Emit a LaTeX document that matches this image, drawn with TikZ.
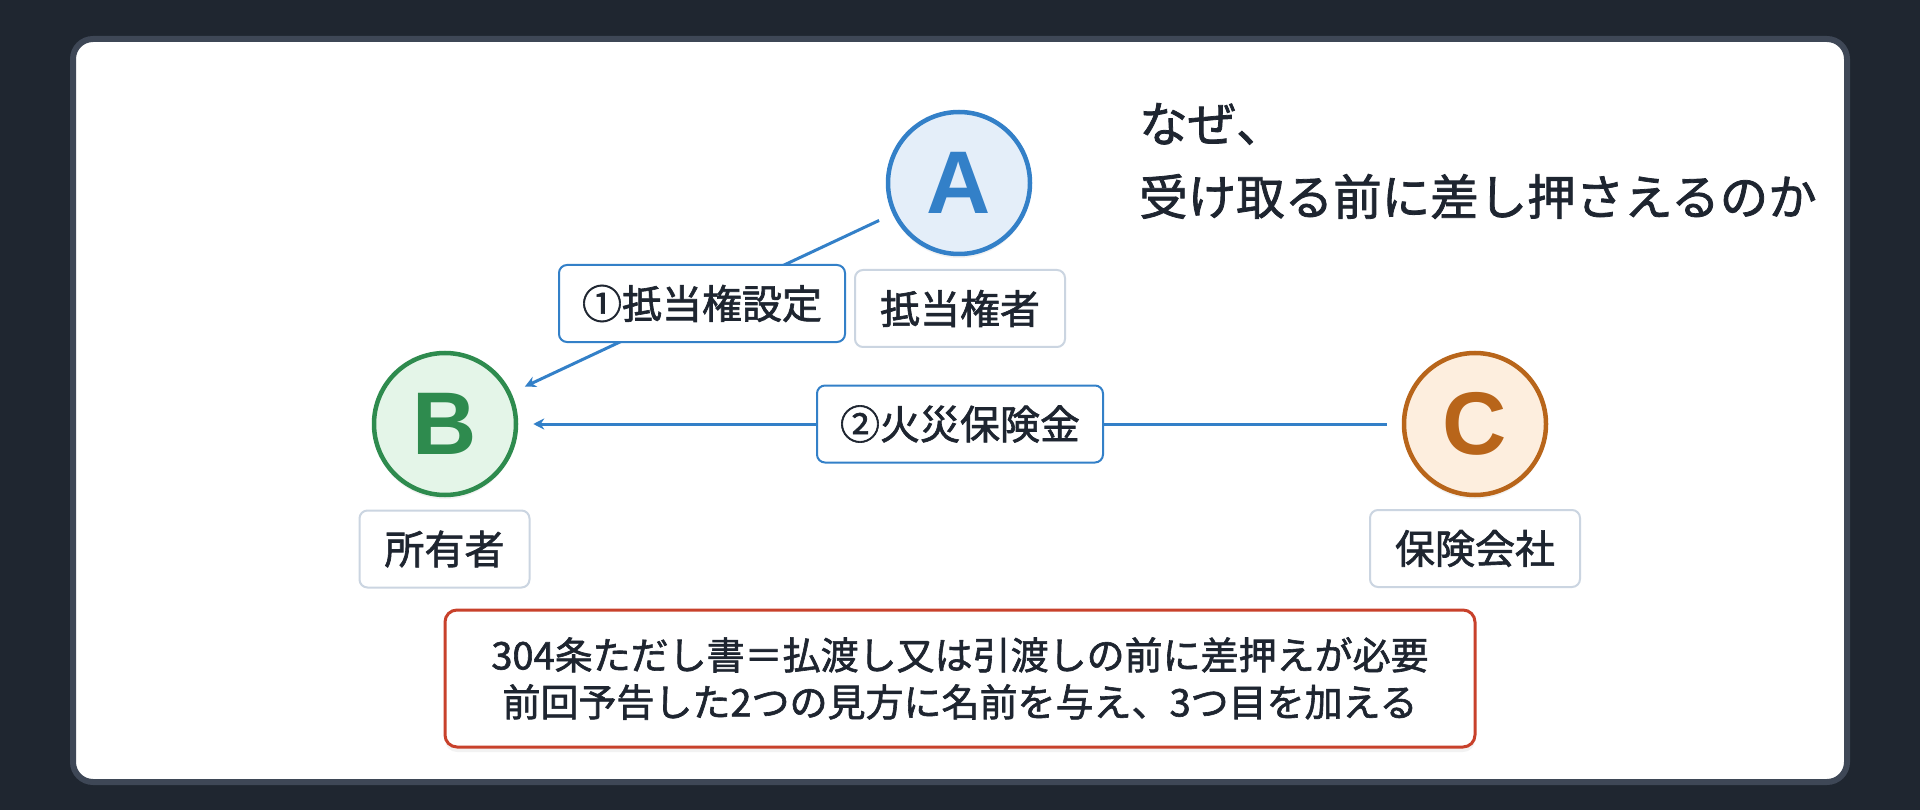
\documentclass[tikz,border=0pt]{standalone}
\usepackage{fontspec}
\setmainfont{Noto Sans CJK JP}
\newfontfamily\jpfont{Noto Sans CJK JP}[FakeBold=1.6]
\newfontfamily\latinfont{Liberation Sans}
\usetikzlibrary{arrows.meta,shadows}
\definecolor{bgdark}{HTML}{1F2630}
\definecolor{cardborder}{HTML}{3E4756}
\definecolor{inkdark}{HTML}{1E2530}
\definecolor{ablue}{HTML}{3380C8}
\definecolor{afill}{HTML}{E4EEF9}
\definecolor{bgreen}{HTML}{2E8B4E}
\definecolor{bfill}{HTML}{E4F5E8}
\definecolor{corange}{HTML}{B8651A}
\definecolor{cfill}{HTML}{FDEEDE}
\definecolor{graybd}{HTML}{CBD5E1}
\definecolor{notered}{HTML}{C8412B}
\begin{document}
\begin{tikzpicture}[x=1pt,y=-1pt,
  circ/.style={circle, minimum size=142pt, inner sep=0pt, line width=4.5pt,
    font=\latinfont\bfseries\fontsize{89}{89}\selectfont,
    drop shadow={opacity=0.10, shadow xshift=0pt, shadow yshift=-4pt}},
  lblbase/.style={rectangle, rounded corners=8pt, fill=white, line width=2pt,
    minimum height=77pt, inner xsep=25pt, inner ysep=0pt, text=inkdark,
    font=\jpfont\fontsize{40}{40}\selectfont},
  graylbl/.style={lblbase, draw=graybd},
  bluelbl/.style={lblbase, draw=ablue, inner xsep=23pt},
  arr/.style={draw=ablue, line width=3pt, -{Stealth[length=11pt,width=11pt]},
    shorten <=15pt, shorten >=15pt},
  titletxt/.style={anchor=base west, inner sep=0pt, text=inkdark,
    font=\jpfont\fontsize{48.5}{48.5}\selectfont},
  notebox/.style={rectangle, rounded corners=12pt, draw=notered, line width=3pt,
    fill=white, minimum width=1030pt, minimum height=137pt, align=center,
    text=inkdark, font=\jpfont\fontsize{38}{47}\selectfont,
    drop shadow={opacity=0.10, shadow xshift=0pt, shadow yshift=-5pt}}
]
\useasboundingbox (0,0) rectangle (1920,810);
\fill[bgdark] (0,0) rectangle (1920,810);
\draw[cardborder, line width=6pt, fill=white, rounded corners=20pt] (73,39) rectangle (1847,782);

% circles
\node[circ, draw=ablue, fill=afill, text=ablue] (A) at (959,183) {A};
\node[circ, draw=bgreen, fill=bfill, text=bgreen] (B) at (445,424) {B};
\node[circ, draw=corange, fill=cfill, text=corange] (C) at (1475,424) {C};

% role labels
\node[graylbl] (la) at (960,308.5) {抵当権者};
\node[graylbl] (lb) at (444.5,549) {所有者};
\node[graylbl] (lc) at (1475,548.5) {保険会社};

% connectors
\draw[arr] (A) -- node[bluelbl] (e1) {①抵当権設定} (B);
\draw[arr] (C) -- node[bluelbl] (e2) {②火災保険金} (B);

% title
\node[titletxt] (t1) at (1139,142) {なぜ、};
\node[titletxt] (t2) at (1139,215) {受け取る前に差し押さえるのか};

% note
\node[notebox] (note) at (960,678.5) {304条ただし書＝払渡し又は引渡しの前に差押えが必要\\前回予告した2つの見方に名前を与え、3つ目を加える};
\end{tikzpicture}
\end{document}
